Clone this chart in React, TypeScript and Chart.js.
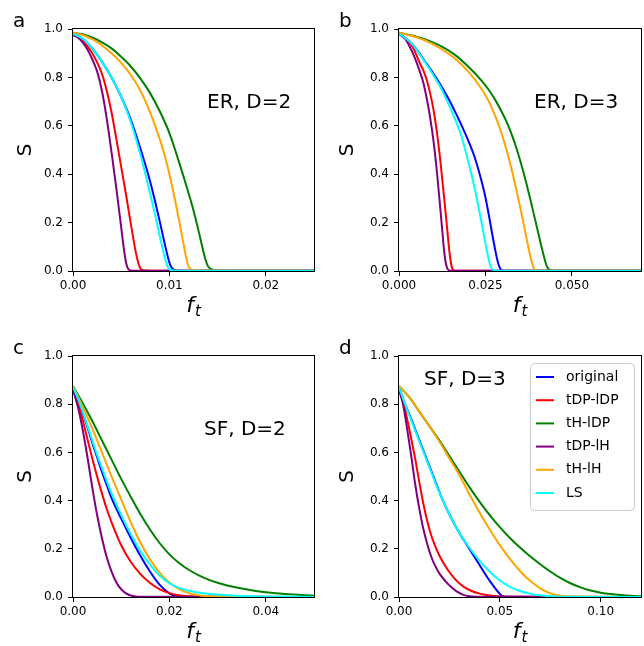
import React, { useEffect, useRef } from "react";
import { Chart, registerables } from "chart.js";

Chart.register(...registerables);

type Pt = [number, number];

// ---------- shared ----------
const seriesLabels = ["original", "tDP-lDP", "tH-lDP", "tDP-lH", "tH-lH", "LS"];
const seriesColors = ["#0000ff", "#ff0000", "#008000", "#800080", "#ffa500", "#00ffff"];
const yTicks = [0, 0.2, 0.4, 0.6, 0.8, 1.0];
const yTickLabels = ["0.0", "0.2", "0.4", "0.6", "0.8", "1.0"];

// ---------- panel a : ER, D=2 ----------
const aXTicks = [0, 0.01, 0.02];
const aXTickLabels = ["0.00", "0.01", "0.02"];
const aXMax = 0.025;
const aOriginal: Pt[] = [[0, 0.98], [0.001, 0.96], [0.002, 0.92], [0.003, 0.865], [0.004, 0.8], [0.005, 0.72], [0.006, 0.625], [0.007, 0.505], [0.008, 0.37], [0.0085, 0.29], [0.009, 0.205], [0.0095, 0.115], [0.01, 0.035], [0.0102, 0.015], [0.0105, 0.004], [0.011, 0.001], [0.025, 0.001]];
const aTdpLdp: Pt[] = [[0, 0.975], [0.0005, 0.967], [0.001, 0.95], [0.0015, 0.928], [0.002, 0.9], [0.0025, 0.862], [0.003, 0.815], [0.0035, 0.745], [0.004, 0.655], [0.0045, 0.545], [0.005, 0.43], [0.0055, 0.315], [0.006, 0.195], [0.0065, 0.08], [0.0068, 0.03], [0.007, 0.01], [0.0073, 0.003], [0.008, 0.001], [0.025, 0.001]];
const aThLdp: Pt[] = [[0, 0.985], [0.001, 0.978], [0.002, 0.965], [0.003, 0.945], [0.004, 0.92], [0.005, 0.885], [0.006, 0.845], [0.007, 0.795], [0.008, 0.735], [0.009, 0.66], [0.01, 0.57], [0.011, 0.45], [0.012, 0.32], [0.0125, 0.25], [0.013, 0.17], [0.0135, 0.085], [0.0138, 0.04], [0.014, 0.02], [0.0145, 0.005], [0.015, 0.001], [0.025, 0.001]];
const aTdpLh: Pt[] = [[0, 0.975], [0.0005, 0.965], [0.001, 0.945], [0.0015, 0.915], [0.002, 0.875], [0.0025, 0.825], [0.003, 0.745], [0.0035, 0.63], [0.004, 0.49], [0.0045, 0.34], [0.005, 0.18], [0.0053, 0.085], [0.0055, 0.035], [0.0057, 0.01], [0.006, 0.002], [0.0065, 0.001], [0.025, 0.001]];
const aThLh: Pt[] = [[0, 0.985], [0.001, 0.975], [0.002, 0.958], [0.003, 0.932], [0.004, 0.9], [0.005, 0.86], [0.006, 0.81], [0.007, 0.745], [0.008, 0.655], [0.009, 0.545], [0.0095, 0.48], [0.01, 0.4], [0.0105, 0.31], [0.011, 0.21], [0.0115, 0.105], [0.0118, 0.045], [0.012, 0.017], [0.0125, 0.003], [0.013, 0.001], [0.025, 0.001]];
const aLs: Pt[] = [[0, 0.98], [0.001, 0.96], [0.002, 0.92], [0.003, 0.865], [0.004, 0.8], [0.005, 0.72], [0.006, 0.615], [0.007, 0.48], [0.008, 0.32], [0.0085, 0.235], [0.009, 0.145], [0.0095, 0.06], [0.0098, 0.02], [0.01, 0.007], [0.0105, 0.002], [0.011, 0.001], [0.025, 0.001]];

// ---------- panel b : ER, D=3 ----------
const bXTicks = [0, 0.025, 0.05];
const bXTickLabels = ["0.000", "0.025", "0.050"];
const bXMax = 0.07;
const bOriginal: Pt[] = [[0, 0.98], [0.002, 0.96], [0.004, 0.935], [0.006, 0.897], [0.008, 0.856], [0.01, 0.815], [0.012, 0.77], [0.014, 0.72], [0.016, 0.665], [0.018, 0.605], [0.02, 0.54], [0.022, 0.465], [0.024, 0.365], [0.025, 0.305], [0.026, 0.23], [0.027, 0.15], [0.028, 0.075], [0.0285, 0.042], [0.029, 0.018], [0.0295, 0.006], [0.03, 0.002], [0.031, 0.001], [0.07, 0.001]];
const bTdpLdp: Pt[] = [[0, 0.98], [0.002, 0.962], [0.004, 0.925], [0.006, 0.86], [0.007, 0.83], [0.008, 0.79], [0.009, 0.735], [0.01, 0.665], [0.011, 0.57], [0.012, 0.45], [0.013, 0.31], [0.014, 0.165], [0.0145, 0.09], [0.015, 0.035], [0.0153, 0.015], [0.0157, 0.004], [0.0165, 0.001], [0.07, 0.001]];
const bThLdp: Pt[] = [[0, 0.985], [0.004, 0.972], [0.008, 0.955], [0.012, 0.93], [0.016, 0.895], [0.02, 0.845], [0.024, 0.785], [0.026, 0.748], [0.028, 0.703], [0.03, 0.65], [0.031, 0.62], [0.032, 0.586], [0.033, 0.548], [0.034, 0.506], [0.035, 0.459], [0.036, 0.408], [0.037, 0.353], [0.038, 0.295], [0.039, 0.235], [0.04, 0.174], [0.041, 0.113], [0.042, 0.056], [0.0425, 0.03], [0.043, 0.013], [0.0435, 0.005], [0.044, 0.002], [0.045, 0.001], [0.07, 0.001]];
const bTdpLh: Pt[] = [[0, 0.98], [0.002, 0.955], [0.004, 0.9], [0.005, 0.865], [0.006, 0.825], [0.007, 0.78], [0.008, 0.715], [0.009, 0.635], [0.01, 0.535], [0.011, 0.405], [0.012, 0.25], [0.0125, 0.17], [0.013, 0.09], [0.0135, 0.035], [0.014, 0.01], [0.0145, 0.003], [0.015, 0.001], [0.07, 0.001]];
const bThLh: Pt[] = [[0, 0.985], [0.004, 0.97], [0.008, 0.95], [0.012, 0.92], [0.016, 0.88], [0.02, 0.825], [0.024, 0.75], [0.026, 0.7], [0.028, 0.635], [0.029, 0.597], [0.03, 0.554], [0.031, 0.506], [0.032, 0.453], [0.033, 0.395], [0.034, 0.333], [0.035, 0.267], [0.036, 0.198], [0.037, 0.128], [0.0375, 0.093], [0.038, 0.06], [0.0385, 0.032], [0.039, 0.013], [0.0395, 0.004], [0.04, 0.001], [0.07, 0.001]];
const bLs: Pt[] = [[0, 0.98], [0.002, 0.96], [0.004, 0.935], [0.006, 0.895], [0.008, 0.853], [0.01, 0.808], [0.012, 0.76], [0.014, 0.7], [0.016, 0.635], [0.018, 0.56], [0.02, 0.455], [0.022, 0.335], [0.024, 0.19], [0.025, 0.115], [0.026, 0.045], [0.0265, 0.02], [0.027, 0.007], [0.028, 0.002], [0.029, 0.001], [0.07, 0.001]];

// ---------- panel c : SF, D=2 ----------
const cXTicks = [0, 0.02, 0.04];
const cXTickLabels = ["0.00", "0.02", "0.04"];
const cXMax = 0.05;
const cOriginal: Pt[] = [[0, 0.87], [0.001, 0.82], [0.002, 0.765], [0.003, 0.705], [0.004, 0.64], [0.005, 0.58], [0.006, 0.52], [0.007, 0.465], [0.008, 0.41], [0.01, 0.325], [0.012, 0.245], [0.014, 0.17], [0.016, 0.105], [0.018, 0.05], [0.02, 0.015], [0.021, 0.006], [0.022, 0.002], [0.024, 0.001], [0.05, 0.0]];
const cTdpLdp: Pt[] = [[0, 0.87], [0.001, 0.81], [0.002, 0.735], [0.003, 0.655], [0.004, 0.575], [0.005, 0.5], [0.006, 0.43], [0.007, 0.365], [0.008, 0.31], [0.009, 0.26], [0.01, 0.215], [0.012, 0.145], [0.014, 0.095], [0.016, 0.058], [0.018, 0.032], [0.02, 0.016], [0.022, 0.007], [0.024, 0.003], [0.026, 0.001], [0.05, 0.0]];
const cThLdp: Pt[] = [[0, 0.875], [0.002, 0.805], [0.004, 0.73], [0.006, 0.65], [0.008, 0.57], [0.01, 0.49], [0.012, 0.415], [0.014, 0.343], [0.016, 0.279], [0.018, 0.223], [0.02, 0.177], [0.022, 0.141], [0.024, 0.113], [0.026, 0.091], [0.028, 0.073], [0.03, 0.059], [0.032, 0.048], [0.034, 0.039], [0.037, 0.028], [0.04, 0.02], [0.044, 0.012], [0.05, 0.005]];
const cTdpLh: Pt[] = [[0, 0.86], [0.001, 0.79], [0.002, 0.695], [0.003, 0.58], [0.004, 0.455], [0.005, 0.34], [0.006, 0.245], [0.007, 0.165], [0.008, 0.105], [0.009, 0.06], [0.01, 0.032], [0.011, 0.015], [0.012, 0.006], [0.013, 0.002], [0.014, 0.001], [0.05, 0.0]];
const cThLh: Pt[] = [[0, 0.875], [0.002, 0.79], [0.004, 0.7], [0.006, 0.6], [0.008, 0.5], [0.01, 0.405], [0.012, 0.31], [0.014, 0.225], [0.016, 0.155], [0.018, 0.1], [0.02, 0.06], [0.022, 0.033], [0.024, 0.016], [0.026, 0.007], [0.028, 0.003], [0.03, 0.001], [0.05, 0.0]];
const cLs: Pt[] = [[0, 0.87], [0.001, 0.825], [0.002, 0.77], [0.003, 0.71], [0.004, 0.65], [0.005, 0.59], [0.006, 0.535], [0.007, 0.48], [0.008, 0.43], [0.01, 0.34], [0.012, 0.26], [0.014, 0.19], [0.016, 0.133], [0.018, 0.088], [0.02, 0.057], [0.022, 0.038], [0.024, 0.026], [0.027, 0.016], [0.03, 0.01], [0.034, 0.005], [0.04, 0.002], [0.05, 0.0]];

// ---------- panel d : SF, D=3 ----------
const dXTicks = [0, 0.05, 0.1];
const dXTickLabels = ["0.00", "0.05", "0.10"];
const dXMax = 0.12;
const dOriginal: Pt[] = [[0, 0.87], [0.003, 0.8], [0.006, 0.74], [0.009, 0.675], [0.012, 0.61], [0.015, 0.545], [0.018, 0.48], [0.021, 0.415], [0.024, 0.36], [0.027, 0.31], [0.03, 0.265], [0.033, 0.225], [0.036, 0.185], [0.039, 0.145], [0.042, 0.105], [0.045, 0.067], [0.048, 0.033], [0.05, 0.013], [0.051, 0.005], [0.052, 0.002], [0.054, 0.001], [0.12, 0.0]];
const dTdpLdp: Pt[] = [[0, 0.86], [0.002, 0.81], [0.004, 0.74], [0.006, 0.66], [0.008, 0.575], [0.01, 0.48], [0.012, 0.39], [0.014, 0.315], [0.016, 0.255], [0.018, 0.21], [0.02, 0.172], [0.024, 0.115], [0.028, 0.072], [0.032, 0.043], [0.036, 0.025], [0.04, 0.014], [0.045, 0.006], [0.05, 0.002], [0.055, 0.001], [0.12, 0.0]];
const dThLdp: Pt[] = [[0, 0.875], [0.005, 0.83], [0.01, 0.77], [0.015, 0.71], [0.02, 0.65], [0.025, 0.585], [0.03, 0.52], [0.035, 0.455], [0.04, 0.395], [0.045, 0.34], [0.05, 0.29], [0.055, 0.245], [0.06, 0.205], [0.065, 0.169], [0.07, 0.136], [0.075, 0.106], [0.08, 0.079], [0.085, 0.057], [0.09, 0.04], [0.095, 0.027], [0.1, 0.018], [0.105, 0.012], [0.11, 0.008], [0.115, 0.005], [0.12, 0.003]];
const dTdpLh: Pt[] = [[0, 0.86], [0.002, 0.8], [0.004, 0.7], [0.006, 0.59], [0.008, 0.47], [0.01, 0.37], [0.012, 0.285], [0.014, 0.22], [0.016, 0.167], [0.018, 0.128], [0.02, 0.098], [0.023, 0.066], [0.026, 0.04], [0.029, 0.021], [0.032, 0.009], [0.035, 0.003], [0.038, 0.001], [0.12, 0.0]];
const dThLh: Pt[] = [[0, 0.875], [0.005, 0.83], [0.01, 0.77], [0.015, 0.71], [0.02, 0.645], [0.025, 0.575], [0.03, 0.505], [0.035, 0.425], [0.04, 0.35], [0.045, 0.28], [0.05, 0.215], [0.055, 0.158], [0.06, 0.108], [0.065, 0.067], [0.07, 0.036], [0.075, 0.015], [0.08, 0.005], [0.085, 0.002], [0.09, 0.001], [0.12, 0.0]];
const dLs: Pt[] = [[0, 0.87], [0.003, 0.8], [0.006, 0.735], [0.009, 0.67], [0.012, 0.605], [0.015, 0.54], [0.018, 0.475], [0.021, 0.415], [0.024, 0.36], [0.027, 0.31], [0.03, 0.265], [0.033, 0.227], [0.036, 0.192], [0.04, 0.15], [0.044, 0.113], [0.048, 0.082], [0.052, 0.057], [0.056, 0.038], [0.06, 0.025], [0.065, 0.014], [0.07, 0.007], [0.075, 0.003], [0.08, 0.001], [0.12, 0.0]];

// ---------- layout (styles only) ----------
type Area = { left: number; top: number; right: number; bottom: number };
type Panel = {
  letter: string;
  title: string;
  titlePos: [number, number];
  xMax: number;
  xTicks: number[];
  xTickLabels: string[];
  series: Pt[][];
  legend: boolean;
  pos: [number, number];
  area: Area;
};

const CW = 322;
const CH = 323;
const FONT = '"DejaVu Sans", "Liberation Sans", sans-serif';

const panels: Panel[] = [
  { letter: "a", title: "ER, D=2", titlePos: [134, 79], xMax: aXMax, xTicks: aXTicks, xTickLabels: aXTickLabels,
    series: [aOriginal, aTdpLdp, aThLdp, aTdpLh, aThLh, aLs], legend: false, pos: [0, 0],
    area: { left: 73, top: 29, right: 314, bottom: 271 } },
  { letter: "b", title: "ER, D=3", titlePos: [135, 79], xMax: bXMax, xTicks: bXTicks, xTickLabels: bXTickLabels,
    series: [bOriginal, bTdpLdp, bThLdp, bTdpLh, bThLh, bLs], legend: false, pos: [322, 0],
    area: { left: 77, top: 29, right: 319, bottom: 271 } },
  { letter: "c", title: "SF, D=2", titlePos: [131, 79], xMax: cXMax, xTicks: cXTicks, xTickLabels: cXTickLabels,
    series: [cOriginal, cTdpLdp, cThLdp, cTdpLh, cThLh, cLs], legend: false, pos: [0, 323],
    area: { left: 73, top: 33, right: 314, bottom: 274 } },
  { letter: "d", title: "SF, D=3", titlePos: [25, 29], xMax: dXMax, xTicks: dXTicks, xTickLabels: dXTickLabels,
    series: [dOriginal, dTdpLdp, dThLdp, dTdpLh, dThLh, dLs], legend: true, pos: [322, 323],
    area: { left: 77, top: 33, right: 319, bottom: 274 } },
];

function PanelChart({ p }: { p: Panel }) {
  const ref = useRef<HTMLCanvasElement | null>(null);
  useEffect(() => {
    const canvas = ref.current;
    if (!canvas) return;
    const a = p.area;
    const decor = {
      id: "decor",
      afterDraw(chart: any) {
        const ctx = chart.ctx as CanvasRenderingContext2D;
        const ca = chart.chartArea;
        ctx.save();
        // frame
        ctx.strokeStyle = "#000";
        ctx.lineWidth = 1;
        ctx.strokeRect(Math.round(ca.left) - 0.5, Math.round(ca.top) - 0.5, Math.round(ca.right - ca.left) + 1, Math.round(ca.bottom - ca.top) + 1);
        ctx.fillStyle = "#000";
        // panel letter
        ctx.font = `20px ${FONT}`;
        ctx.textAlign = "left";
        ctx.textBaseline = "alphabetic";
        ctx.fillText(p.letter, ca.left - 60, ca.top - 2);
        // annotation
        ctx.fillText(p.title, ca.left + p.titlePos[0], ca.top + p.titlePos[1]);
        // y label
        ctx.save();
        ctx.translate(25.5, (ca.top + ca.bottom) / 2);
        ctx.rotate(-Math.PI / 2);
        ctx.textAlign = "center";
        ctx.textBaseline = "middle";
        ctx.font = `20px ${FONT}`;
        ctx.fillText("S", 0, 0);
        ctx.restore();
        // x label f_t
        const fFont = `italic 22px ${FONT}`;
        const tFont = `italic 15px ${FONT}`;
        ctx.font = fFont;
        const fw = ctx.measureText("f").width;
        ctx.font = tFont;
        const tw = ctx.measureText("t").width;
        const total = fw + tw + 1;
        const cx = (ca.left + ca.right) / 2;
        const x0 = cx - total / 2;
        ctx.textAlign = "left";
        ctx.font = fFont;
        ctx.fillText("f", x0, ca.bottom + 41);
        ctx.font = tFont;
        ctx.fillText("t", x0 + fw + 1, ca.bottom + 45);
        // legend
        if (p.legend) {
          const ds = chart.data.datasets;
          const bw = 104, bh = 147;
          const bx = ca.right - 7 - bw;
          const by = ca.top + 7;
          ctx.beginPath();
          (ctx as any).roundRect(bx + 0.5, by + 0.5, bw, bh, 4);
          ctx.fillStyle = "rgba(255,255,255,0.8)";
          ctx.fill();
          ctx.strokeStyle = "#cccccc";
          ctx.lineWidth = 1;
          ctx.stroke();
          ctx.font = `14px ${FONT}`;
          ctx.textBaseline = "middle";
          ds.forEach((d: any, i: number) => {
            const yy = by + 14 + i * 23.2;
            ctx.strokeStyle = d.borderColor;
            ctx.lineWidth = 2;
            ctx.beginPath();
            ctx.moveTo(bx + 6, yy);
            ctx.lineTo(bx + 24, yy);
            ctx.stroke();
            ctx.fillStyle = "#000";
            ctx.fillText(d.label, bx + 36, yy);
          });
        }
        ctx.restore();
      },
    };
    const tickFont = { family: FONT, size: 12 };
    const chart = new Chart(canvas, {
      type: "line",
      data: {
        datasets: p.series.map((pts, i) => ({
          label: seriesLabels[i],
          data: pts.map(([x, y]) => ({ x, y })),
          borderColor: seriesColors[i],
          backgroundColor: seriesColors[i],
          borderWidth: 2,
          pointRadius: 0,
          fill: false,
          cubicInterpolationMode: "monotone" as const,
          order: seriesLabels.length - i,
        })),
      },
      options: {
        responsive: false,
        animation: false,
        events: [],
        layout: { padding: { left: 0, top: a.top, right: CW - a.right, bottom: 0 } },
        plugins: { legend: { display: false }, tooltip: { enabled: false } },
        scales: {
          x: {
            type: "linear",
            min: 0,
            max: p.xMax,
            afterBuildTicks: (s: any) => { s.ticks = p.xTicks.map((v) => ({ value: v })); },
            afterFit: (s: any) => { s.height = CH - a.bottom; },
            ticks: { callback: (_v: any, i: number) => p.xTickLabels[i], font: tickFont, color: "#000", padding: 3, maxRotation: 0, autoSkip: false },
            grid: { drawOnChartArea: false, drawTicks: true, tickLength: 5, color: "#000", lineWidth: 1 },
            border: { display: false },
          },
          y: {
            type: "linear",
            min: 0,
            max: 1,
            afterBuildTicks: (s: any) => { s.ticks = yTicks.map((v) => ({ value: v })); },
            afterFit: (s: any) => { s.width = a.left; },
            ticks: { callback: (_v: any, i: number) => yTickLabels[i], font: tickFont, color: "#000", padding: 5, autoSkip: false },
            grid: { drawOnChartArea: false, drawTicks: true, tickLength: 5, color: "#000", lineWidth: 1 },
            border: { display: false },
          },
        },
      } as any,
      plugins: [decor],
    });
    return () => chart.destroy();
  }, [p]);
  return (
    <canvas
      ref={ref}
      width={CW}
      height={CH}
      style={{ position: "absolute", left: p.pos[0], top: p.pos[1], width: CW, height: CH }}
    />
  );
}

export default function App() {
  return (
    <div style={{ position: "absolute", left: 0, top: 0, width: 644, height: 646, background: "#fff" }}>
      {panels.map((p) => (
        <PanelChart key={p.letter} p={p} />
      ))}
    </div>
  );
}
